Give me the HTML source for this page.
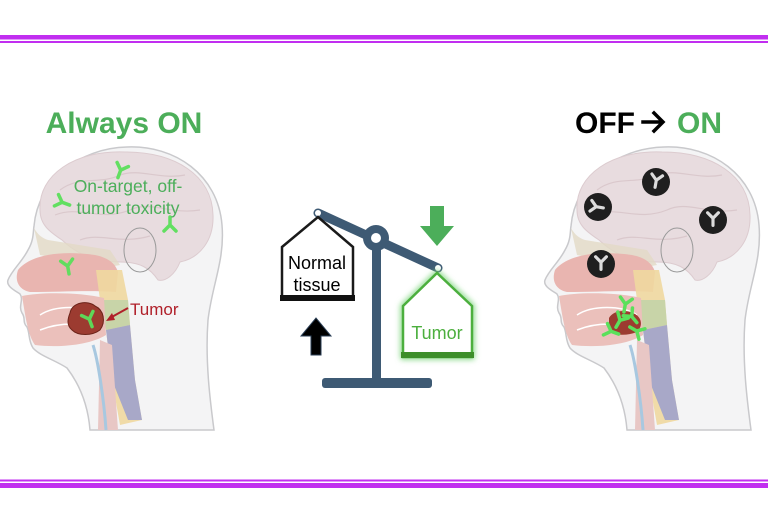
<!DOCTYPE html>
<html><head><meta charset="utf-8"><style>
html,body{margin:0;padding:0;background:#fff;}
body{width:768px;height:512px;overflow:hidden;position:relative;font-family:"Liberation Sans",sans-serif;}
</style></head><body>
<svg width="768" height="512" viewBox="0 0 768 512" xmlns="http://www.w3.org/2000/svg" style="position:absolute;left:0;top:0">
<defs>
<filter id="glow" x="-30%" y="-30%" width="160%" height="160%"><feGaussianBlur stdDeviation="3"/></filter>
<g id="head">
  <path d="M127,147 C175,145 218,175 222,225 C225,260 212,285 208,320 C205,360 210,400 214,430 L90,430 C88,405 80,385 67,368 C55,360 40,356 33,348 C28,340 30,333 27,327 C22,322 26,318 22,313 C18,306 24,300 20,294 C14,290 6,286 8,280 C12,270 22,262 28,250 C34,240 33,232 34,226 C38,180 80,148 127,147 Z" fill="#f4f4f5" stroke="#c9c9cc" stroke-width="1.5"/>
  <path d="M40,210 C38,175 75,150 125,152 C175,152 212,175 213,215 C214,240 200,258 180,262 C175,275 165,282 158,280 C150,268 140,262 120,262 C95,262 78,255 62,240 C50,232 40,225 40,210 Z" fill="#e8dcdf" stroke="#dccbcf" stroke-width="1"/>
  <path d="M60,190 C80,175 100,185 120,175 C140,168 160,180 185,175 M55,215 C80,205 100,222 130,210 C150,200 170,215 200,210 M80,240 C100,232 120,245 150,236" fill="none" stroke="#dac8cc" stroke-width="1.2"/>
  <ellipse cx="140" cy="250" rx="16" ry="22" fill="none" stroke="#9a9a9a" stroke-width="1"/>
  <path d="M34,228 C38,235 42,238 48,240 L110,250 L120,265 L104,268 L40,255 Z" fill="#e2d9c6" opacity="0.8"/>
  <path d="M18,270 C30,255 60,250 95,255 C110,258 116,265 118,272 L116,292 C90,290 60,292 30,292 C20,290 14,282 18,270 Z" fill="#e9b5b0"/>
  <path d="M96,270 L122,270 L128,300 L130,325 L135,380 L142,420 L120,425 L112,380 L106,330 L100,300 Z" fill="#f0d8a0" opacity="0.9"/>
  <path d="M100,300 L128,300 L130,325 L106,330 Z" fill="#c8d4a8"/>
  <path d="M106,330 L130,325 L135,380 L142,420 L128,420 L112,380 Z" fill="#a8a8c8"/>
  <path d="M22,296 C40,292 80,292 104,298 L106,335 C90,345 60,348 35,345 C28,335 26,320 22,296 Z" fill="#ebc0bb"/>
  <path d="M40,315 C55,305 85,305 100,315" fill="none" stroke="#fff" stroke-width="1.5"/>
  <path d="M40,330 C60,322 85,322 100,330" fill="none" stroke="#fff" stroke-width="1.5"/>
  <path d="M100,340 L112,345 L118,430 L98,430 Z" fill="#e8c7c5"/>
  <path d="M93,345 C98,360 104,400 106,430" fill="none" stroke="#a8c8e0" stroke-width="3"/>
</g>
<g id="ab"><path d="M0,6 L0,-2 L-6,-8 M0,-2 L6,-8" fill="none" stroke-width="3.5" stroke-linecap="round"/></g>
</defs>

<rect x="0" y="35" width="768" height="4.5" fill="#c12ef0"/>
<rect x="0" y="41" width="768" height="2" fill="#c12ef0"/>
<rect x="0" y="479.5" width="768" height="2" fill="#c12ef0"/>
<rect x="0" y="483" width="768" height="5" fill="#c12ef0"/>

<use href="#head"/>
<path d="M70,313 C72,302 88,300 95,306 C104,310 106,322 100,330 C92,336 78,336 72,330 C66,325 68,318 70,313 Z" fill="#9c3b30" stroke="#6b2218" stroke-width="1"/>
<g stroke="#5be05b" opacity="0.95">
 <use href="#ab" transform="translate(90,321) rotate(-20)"/>
 <use href="#ab" transform="translate(120,172) rotate(20)"/>
 <use href="#ab" transform="translate(64,203) rotate(-70)"/>
 <use href="#ab" transform="translate(170,223) rotate(180)"/>
 <use href="#ab" transform="translate(68,268) rotate(-10)"/>
</g>
<line x1="128" y1="308" x2="110" y2="318" stroke="#b0202a" stroke-width="2"/>
<path d="M106,321 L112,313 L115,320 Z" fill="#b0202a"/>
<text x="130" y="315" font-size="17" fill="#b0202a">Tumor</text>
<text x="128" y="192" font-size="17.5" fill="#4cae5a" text-anchor="middle">On-target, off-</text>
<text x="128" y="214" font-size="17.5" fill="#4cae5a" text-anchor="middle">tumor toxicity</text>
<text x="124" y="133" font-size="30" font-weight="bold" fill="#4cae5a" text-anchor="middle">Always ON</text>

<g transform="translate(537,0)"><use href="#head"/>
<path d="M72,318 C76,310 90,309 98,314 C105,318 106,326 100,332 C90,336 78,336 72,330 Z" fill="#9c3b30"/>
<g stroke="#5be05b"><use href="#ab" transform="translate(82,322) rotate(30)"/><use href="#ab" transform="translate(96,318) rotate(-40)"/><use href="#ab" transform="translate(88,306) rotate(10)"/><use href="#ab" transform="translate(76,332) rotate(-70)"/><use href="#ab" transform="translate(98,330) rotate(120)"/></g>
</g>
<g fill="#1f1f1f">
 <circle cx="598" cy="207" r="14"/><circle cx="656" cy="182" r="14"/><circle cx="713" cy="220" r="14"/><circle cx="601" cy="264" r="14"/>
</g>
<g stroke="#dcdcdc" stroke-width="2">
 <use href="#ab" transform="translate(598,207) rotate(-80) scale(0.9)"/>
 <use href="#ab" transform="translate(656,182) rotate(10) scale(0.9)"/>
 <use href="#ab" transform="translate(713,220) scale(0.9)"/>
 <use href="#ab" transform="translate(601,264) scale(0.9)"/>
</g>
<text x="575" y="133" font-size="30" font-weight="bold" fill="#000">OFF</text>
<path d="M643,122 L662,122 M654,113 L663,122 L654,131" fill="none" stroke="#000" stroke-width="3.5" stroke-linecap="square"/>
<text x="677" y="133" font-size="30" font-weight="bold" fill="#4cae5a">ON</text>

<rect x="372" y="240" width="9" height="142" fill="#3e5a74"/>
<rect x="322" y="378" width="110" height="10" rx="3" fill="#3e5a74"/>
<line x1="318" y1="213" x2="438" y2="268" stroke="#3e5a74" stroke-width="9" stroke-linecap="round"/>
<circle cx="376" cy="238" r="13" fill="#3e5a74"/><circle cx="376" cy="238" r="5" fill="#fff"/>
<circle cx="318" cy="213" r="3" fill="#fff"/><circle cx="438" cy="268" r="3" fill="#fff"/>
<path d="M282,298 L282,247 L318,217 L353,247 L353,298 Z" fill="#fff" stroke="#1a1a1a" stroke-width="2.5"/>
<rect x="280" y="295" width="75" height="6" fill="#111"/>
<text x="317" y="269" font-size="18" text-anchor="middle" fill="#000">Normal</text>
<text x="317" y="291" font-size="18" text-anchor="middle" fill="#000">tissue</text>
<path d="M403,357 L403,306 L437,273 L472,306 L472,357 Z" fill="none" stroke="#7fd67f" stroke-width="5" filter="url(#glow)"/>
<path d="M403,357 L403,306 L437,273 L472,306 L472,357 Z" fill="#fff" stroke="#4caf3e" stroke-width="2.5"/>
<rect x="401" y="352" width="73" height="6" fill="#3d8f2a"/>
<text x="437" y="339" font-size="18" text-anchor="middle" fill="#4caf3e">Tumor</text>
<path d="M430,206 L444,206 L444,226 L454,226 L437,246 L420,226 L430,226 Z" fill="#4cae5a"/>
<path d="M311,355 L321,355 L321,336 L331,336 L316,318 L301,336 L311,336 Z" fill="#000" stroke="#2a3e55" stroke-width="1"/>
</svg>
</body></html>
